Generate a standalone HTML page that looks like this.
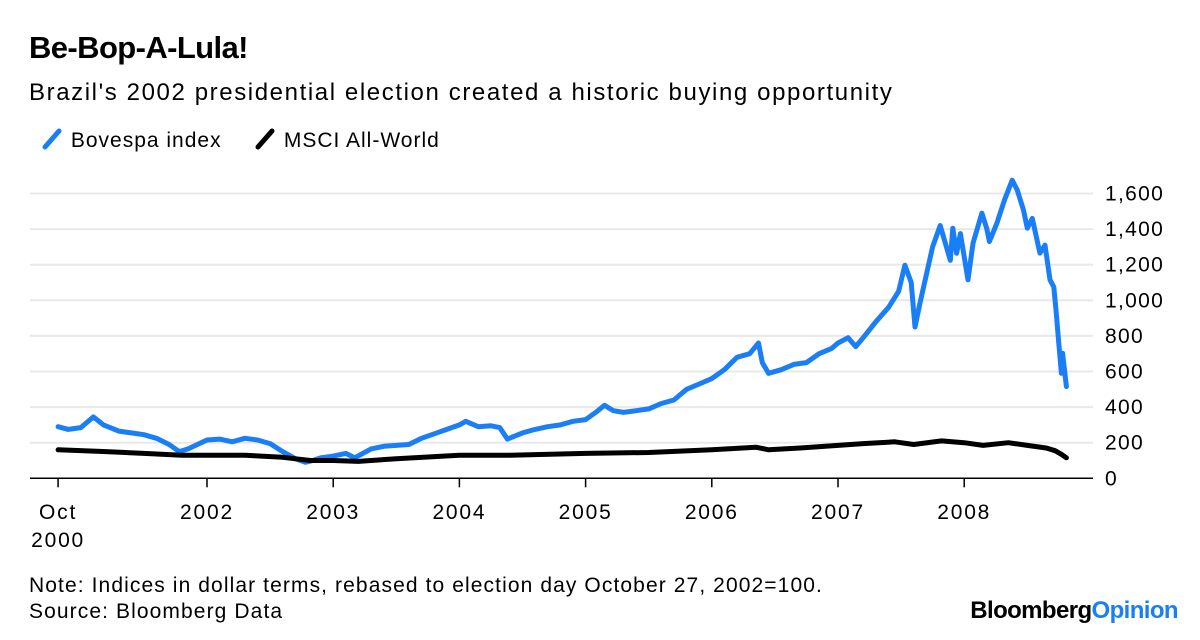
<!DOCTYPE html>
<html><head><meta charset="utf-8"><style>
body{margin:0;width:1200px;height:640px;background:#fff;font-family:"Liberation Sans",sans-serif;overflow:hidden;position:relative}
.t{position:absolute;color:#000;white-space:nowrap}
</style></head><body>
<div class="t" style="left:29px;top:30px;font-size:31px;font-weight:bold;letter-spacing:-0.6px">Be-Bop-A-Lula!</div>
<div class="t" style="left:29px;top:79px;font-size:24px;letter-spacing:1.6px">Brazil's 2002 presidential election created a historic buying opportunity</div>
<div style="position:absolute;left:40px;top:127px;height:26px;font-size:21px;letter-spacing:1px">
 <span style="position:absolute;left:0;top:0;white-space:nowrap"><svg width="24" height="24" style="vertical-align:-4px"><line x1="5" y1="20" x2="19" y2="4" stroke="#1a7ef6" stroke-width="5" stroke-linecap="round"/></svg> Bovespa index</span>
 <span style="position:absolute;left:213px;top:0;white-space:nowrap"><svg width="24" height="24" style="vertical-align:-4px"><line x1="5" y1="20" x2="19" y2="4" stroke="#000" stroke-width="5" stroke-linecap="round"/></svg> MSCI All-World</span>
</div>
<svg id="chart" width="1200" height="640" style="position:absolute;left:0;top:0"></svg>
<div class="t" style="left:29px;top:574px;font-size:21px;letter-spacing:1.1px">Note: Indices in dollar terms, rebased to election day October 27, 2002=100.</div>
<div class="t" style="left:29px;top:600px;font-size:21px;letter-spacing:1.1px">Source: Bloomberg Data</div>
<div class="t" style="right:22px;top:597px;font-size:24px;font-weight:bold;letter-spacing:-0.6px">Bloomberg<span style="color:#1a7ef6">Opinion</span></div>
<script>
const yTicks=[0,200,400,600,800,1000,1200,1400,1600];
const yTickLabels=["0","200","400","600","800","1,000","1,200","1,400","1,600"];
const xTicks=[2000.82,2002,2003,2004,2005,2006,2007,2008];
const xTickLabels=["Oct","2002","2003","2004","2005","2006","2007","2008"];
const bovDates=[2000.82,2000.9,2001.0,2001.1,2001.18,2001.3,2001.4,2001.5,2001.6,2001.7,2001.78,2001.85,2002.0,2002.1,2002.2,2002.3,2002.4,2002.5,2002.6,2002.7,2002.78,2002.84,2002.9,2003.0,2003.1,2003.17,2003.3,2003.4,2003.5,2003.6,2003.7,2003.8,2003.9,2004.0,2004.05,2004.15,2004.25,2004.32,2004.38,2004.5,2004.6,2004.7,2004.8,2004.9,2005.0,2005.08,2005.15,2005.22,2005.3,2005.4,2005.5,2005.6,2005.7,2005.8,2005.9,2006.0,2006.1,2006.2,2006.3,2006.37,2006.4,2006.45,2006.55,2006.65,2006.75,2006.85,2006.95,2007.0,2007.08,2007.14,2007.2,2007.3,2007.4,2007.48,2007.53,2007.58,2007.61,2007.65,2007.75,2007.81,2007.89,2007.91,2007.94,2007.97,2008.03,2008.07,2008.14,2008.18,2008.2,2008.26,2008.32,2008.38,2008.42,2008.47,2008.5,2008.54,2008.6,2008.64,2008.68,2008.71,2008.73,2008.75,2008.77,2008.78,2008.81];
const bovValues=[290,275,285,345,300,265,255,245,225,190,150,165,215,220,205,225,215,195,150,110,90,100,115,125,140,115,165,180,185,190,225,250,275,300,320,290,295,285,220,255,275,290,300,320,330,370,410,380,370,380,390,420,440,500,530,560,610,680,700,760,650,590,610,640,650,700,730,760,790,740,790,880,960,1050,1197,1100,850,985,1300,1420,1225,1405,1264,1375,1115,1320,1490,1400,1330,1435,1565,1675,1620,1507,1405,1460,1265,1310,1115,1075,927,758,590,702,515];
const msciDates=[2000.82,2001.2,2001.5,2001.8,2002.0,2002.3,2002.6,2002.82,2003.0,2003.2,2003.5,2004.0,2004.4,2005.0,2005.5,2006.0,2006.35,2006.45,2006.7,2007.0,2007.2,2007.45,2007.6,2007.82,2008.0,2008.15,2008.35,2008.5,2008.65,2008.72,2008.77,2008.81];
const msciValues=[160,150,140,130,130,130,118,100,100,95,110,130,130,140,145,160,175,160,170,185,195,205,190,210,200,185,200,185,170,155,135,115];
const ns="http://www.w3.org/2000/svg";
const svg=document.getElementById('chart');
const x=t=>207+(t-2002)*126.2;
const y=v=>478.3-v*0.178;
function mk(tag,attrs){const e=document.createElementNS(ns,tag);for(const k in attrs)e.setAttribute(k,attrs[k]);svg.appendChild(e);return e;}
yTicks.forEach((v,i)=>{
 if(v>0){const g=mk('line',{x1:30,x2:1093,y1:y(v),y2:y(v),stroke:'#e8e8e8','stroke-width':2});
 
 }
 const t=mk('text',{x:1105,y:y(v)+7,'font-size':21,'letter-spacing':1.3,'font-family':'Liberation Sans,sans-serif',fill:'#000'});
 t.textContent=yTickLabels[i];
 
 
});
const ax=mk('line',{x1:30,x2:1093,y1:y(0),y2:y(0),stroke:'#000','stroke-width':1.5});


xTicks.forEach((t,i)=>{
 const tk=mk('line',{x1:x(t),x2:x(t),y1:y(0),y2:y(0)+9,stroke:'#000','stroke-width':1.5});
 
 
 const lb=mk('text',{x:x(t),y:519,'font-size':21,'letter-spacing':1.8,'text-anchor':'middle','font-family':'Liberation Sans,sans-serif',fill:'#000'});
 lb.textContent=xTickLabels[i];
 
 
});
const lb2=mk('text',{x:x(xTicks[0]),y:547,'font-size':21,'letter-spacing':1.8,'text-anchor':'middle','font-family':'Liberation Sans,sans-serif',fill:'#000'});
lb2.textContent="2000";


function line(d,v){return d.map((t,i)=>(i?'L':'M')+x(t).toFixed(1)+','+y(v[i]).toFixed(1)).join('');}
const p1=mk('path',{d:line(bovDates,bovValues),fill:'none',stroke:'#1a7ef6','stroke-width':5,'stroke-linejoin':'round','stroke-linecap':'round'});


const p2=mk('path',{d:line(msciDates,msciValues),fill:'none',stroke:'#000','stroke-width':5,'stroke-linejoin':'round','stroke-linecap':'round'});


</script>
</body></html>
